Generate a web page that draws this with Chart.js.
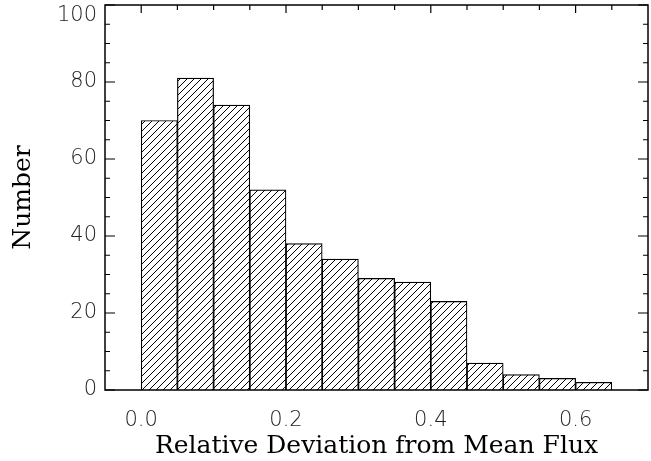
<!DOCTYPE html>
<html>
<head>
<meta charset="utf-8">
<script src="https://cdn.jsdelivr.net/npm/chart.js@4.4.1/dist/chart.umd.min.js"></script>
<style>
  html, body { margin: 0; padding: 0; background: #fff; }
  #wrap { width: 651px; height: 461px; }
</style>
</head>
<body>
<div id="wrap"><canvas id="histo"></canvas></div>
<script>
// histogram bins (centres of 0.05 wide bins) and counts
const binCenters = [0.025, 0.075, 0.125, 0.175, 0.225, 0.275, 0.325, 0.375, 0.425, 0.475, 0.525, 0.575, 0.625];
const counts = [70, 81, 74, 52, 38, 34, 29, 28, 23, 7, 4, 3, 2];

const xTickValues = [0.0, 0.2, 0.4, 0.6];
const xTickLabels = ['0.0', '0.2', '0.4', '0.6'];
const yTickLabels = ['0', '20', '40', '60', '80', '100'];

const xTitle = 'Relative Deviation from Mean Flux';
const yTitle = 'Number';

// diagonal hatch fill
function hatchPattern() {
  const s = 7;
  const c = document.createElement('canvas');
  c.width = s; c.height = s;
  const g = c.getContext('2d');
  g.fillStyle = '#fff';
  g.fillRect(0, 0, s, s);
  g.strokeStyle = '#000';
  g.lineWidth = 1;
  g.beginPath();
  g.moveTo(-1, s + 1); g.lineTo(s + 1, -1);
  g.moveTo(-1, 1); g.lineTo(1, -1);
  g.moveTo(s - 1, s + 1); g.lineTo(s + 1, s - 1);
  g.stroke();
  return g.createPattern(c, 'repeat');
}

// box around the plot with inward ticks (IDL style)
const frame = {
  id: 'frame',
  afterDatasetsDraw(chart) {
    const { ctx, chartArea: a, scales } = chart;
    const x = scales.x, y = scales.y;
    ctx.save();
    ctx.strokeStyle = '#000';
    ctx.lineWidth = 1.5;
    ctx.strokeRect(a.left, a.top, a.right - a.left, a.bottom - a.top);
    ctx.lineWidth = 1.2;
    ctx.beginPath();
    for (let v = 0; v <= 100; v += 5) {
      const py = y.getPixelForValue(v);
      const len = v % 20 === 0 ? 10 : 5;
      ctx.moveTo(a.left, py); ctx.lineTo(a.left + len, py);
      ctx.moveTo(a.right, py); ctx.lineTo(a.right - len, py);
    }
    for (let i = 0; i <= 13; i++) {
      const v = i * 0.05;
      const px = x.getPixelForValue(v);
      const len = i % 4 === 0 ? 8 : 5;
      ctx.moveTo(px, a.top); ctx.lineTo(px, a.top + len);
    }
    ctx.stroke();
    ctx.restore();
  }
};

const tickFont = { family: 'DejaVu Sans', size: 21, weight: 200, lineHeight: 1.0 };
const titleFont = { family: 'DejaVu Serif', size: 25, weight: 'normal' };

const ctx = document.getElementById('histo').getContext('2d');
new Chart(ctx, {
  type: 'bar',
  data: {
    datasets: [{
      data: binCenters.map((x, i) => ({ x: x, y: counts[i] })),
      backgroundColor: hatchPattern(),
      borderColor: '#000',
      borderWidth: 1.2,
      barPercentage: 1.0,
      categoryPercentage: 1.0
    }]
  },
  plugins: [frame],
  options: {
    responsive: true,
    maintainAspectRatio: false,
    animation: false,
    events: [],
    layout: { padding: { top: 5, right: 3, left: 0, bottom: 0 } },
    plugins: { legend: { display: false }, tooltip: { enabled: false } },
    scales: {
      x: {
        type: 'linear',
        offset: false,
        min: -0.05,
        max: 0.7,
        grid: { display: false, drawTicks: false, offset: false },
        border: { display: false },
        afterBuildTicks: (scale) => { scale.ticks = xTickValues.map(v => ({ value: v })); },
        afterFit: (scale) => {
          scale.height = 71;
          scale.paddingLeft = 0;
          scale.paddingRight = 0;
        },
        ticks: {
          font: tickFont,
          color: '#222',
          padding: 20,
          maxRotation: 0,
          callback: (v, i) => xTickLabels[i]
        },
        title: {
          display: true,
          text: xTitle,
          font: titleFont,
          color: '#000',
          padding: { top: 0, bottom: 0 }
        }
      },
      y: {
        min: 0,
        max: 100,
        grid: { display: false, drawTicks: false },
        border: { display: false },
        afterFit: (scale) => {
          scale.width = 105;
          scale.paddingTop = 0;
          scale.paddingBottom = 0;
        },
        ticks: {
          stepSize: 20,
          font: tickFont,
          color: '#222',
          padding: 8,
          callback: (v, i) => (v === 100 ? ['', yTickLabels[i]] : yTickLabels[i])
        },
        title: {
          display: true,
          text: yTitle,
          font: titleFont,
          color: '#000',
          padding: { top: 8, bottom: 0 }
        }
      }
    }
  }
});
</script>
</body>
</html>
